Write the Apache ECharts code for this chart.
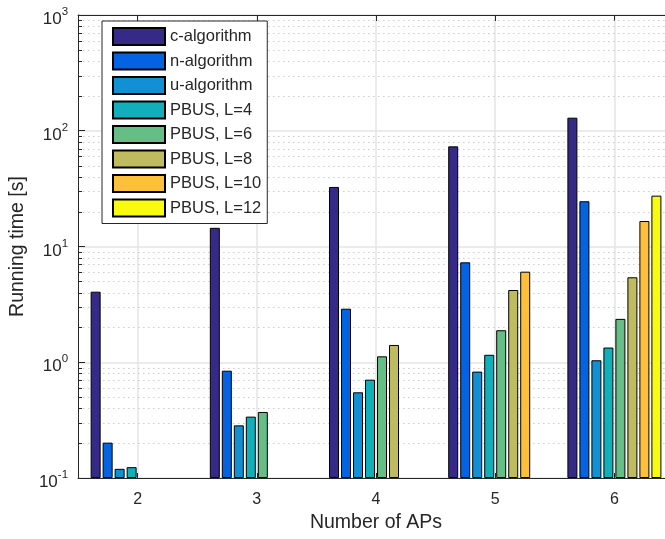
<!DOCTYPE html>
<html>
<head>
<meta charset="utf-8">
<script src="https://cdn.jsdelivr.net/npm/echarts@6/dist/echarts.min.js"></script>
<style>
  html, body { margin: 0; padding: 0; background: #fff; overflow: hidden; }
  #chart { width: 674px; height: 539px; }
</style>
</head>
<body>
<div id="chart"></div>
<script>
// Number of access points on the x axis
const categories = ['2', '3', '4', '5', '6'];

// Running time in seconds per method (null = not run for that size)
const cAlgorithm = [4.07, 14.5, 32.7, 73.3, 129.7];
const nAlgorithm = [0.202, 0.845, 2.90, 7.30, 24.6];
const uAlgorithm = [0.120, 0.285, 0.550, 0.83, 1.04];
const pbusL4 = [0.124, 0.339, 0.707, 1.16, 1.34];
const pbusL6 = [null, 0.372, 1.125, 1.89, 2.37];
const pbusL8 = [null, null, 1.41, 4.21, 5.42];
const pbusL10 = [null, null, null, 6.06, 16.6];
const pbusL12 = [null, null, null, null, 27.5];

const seriesNames = ['c-algorithm', 'n-algorithm', 'u-algorithm', 'PBUS, L=4',
  'PBUS, L=6', 'PBUS, L=8', 'PBUS, L=10', 'PBUS, L=12'];
const seriesValues = [cAlgorithm, nAlgorithm, uAlgorithm, pbusL4,
  pbusL6, pbusL8, pbusL10, pbusL12];
const seriesColors = ['#352a87', '#0363e1', '#1290d4', '#11afb9',
  '#65be86', '#bfbc5f', '#febf3a', '#f9fb0e'];

// Log-axis decades and the minor positions inside each decade
const decades = [0.1, 1, 10, 100];
const minorFactors = [2, 3, 4, 5, 6, 7, 8, 9];
const minorValues = [];
decades.forEach(d => minorFactors.forEach(k => minorValues.push(+(k * d).toPrecision(3))));

const axisColor = '#262626';
const font = 'Liberation Sans, Arial, Helvetica, sans-serif';

const chart = echarts.init(document.getElementById('chart'), null, { renderer: 'canvas' });

const barSeries = seriesNames.map((name, i) => ({
  name: name,
  type: 'bar',
  xAxisIndex: 0,
  yAxisIndex: 0,
  data: seriesValues[i],
  barWidth: 10,
  barGap: '20%',
  z: 3,
  itemStyle: { color: seriesColors[i], borderColor: '#000', borderWidth: 1 }
}));

// Dotted minor grid lines plus the short minor ticks on the left axis
const minorGrid = {
  type: 'custom',
  name: 'minor',
  xAxisIndex: 0,
  yAxisIndex: 0,
  z: 1,
  silent: true,
  data: minorValues.map(v => [0, v]),
  encode: { x: 0, y: 1 },
  renderItem: function (params, api) {
    const cs = params.coordSys;
    const y = Math.round(api.coord([0, api.value(1)])[1]) + 0.5;
    return {
      type: 'group',
      children: [
        { type: 'line', shape: { x1: cs.x, y1: y, x2: cs.x + cs.width, y2: y },
          style: { stroke: '#cdcdcd', lineWidth: 1, lineDash: [1.5, 3.5] } },
        { type: 'line', shape: { x1: cs.x, y1: y, x2: cs.x + 4, y2: y },
          style: { stroke: axisColor, lineWidth: 1 } }
      ]
    };
  }
};

const option = {
  animation: false,
  backgroundColor: '#fff',
  textStyle: { fontFamily: font },
  grid: { left: 78, top: 15, right: 0, bottom: 61, containLabel: false },
  legend: {
    data: seriesNames,
    orient: 'vertical',
    left: 102,
    top: 21,
    padding: [6, 6, 6, 10],
    itemWidth: 52,
    itemHeight: 17,
    itemGap: 5.5,
    backgroundColor: '#fff',
    borderColor: axisColor,
    borderWidth: 1,
    borderRadius: 0,
    textStyle: { fontFamily: font, fontSize: 16.5, color: '#262626', padding: [0, 0, 0, 0] },
    icon: 'rect'
  },
  xAxis: [{
    type: 'category',
    data: categories,
    position: 'bottom',
    name: 'Number of APs',
    nameLocation: 'middle',
    nameGap: 35,
    nameTextStyle: { fontFamily: font, fontSize: 19.5, color: '#262626' },
    axisLine: { show: true, lineStyle: { color: axisColor, width: 1 } },
    axisTick: { show: true, inside: true, alignWithLabel: true, length: 5, lineStyle: { color: axisColor } },
    axisLabel: { fontFamily: font, fontSize: 16, color: '#262626', margin: 14 },
    splitLine: { show: true, alignWithLabel: true, lineStyle: { color: '#e5e5e5', width: 1.5 } }
  }, {
    type: 'category',
    data: categories,
    position: 'top',
    axisLine: { show: true, lineStyle: { color: axisColor, width: 1 } },
    axisTick: { show: true, inside: true, alignWithLabel: true, length: 6, lineStyle: { color: axisColor } },
    axisLabel: { show: false },
    splitLine: { show: false }
  }],
  yAxis: [{
    type: 'log',
    logBase: 10,
    min: 0.1,
    max: 1000,
    startValue: 0.1,
    name: 'Running time [s]',
    nameLocation: 'middle',
    nameRotate: 90,
    nameGap: 48,
    nameTextStyle: { fontFamily: font, fontSize: 19.5, color: '#262626' },
    axisLine: { show: true, lineStyle: { color: axisColor, width: 1 } },
    axisTick: { show: true, inside: true, length: 7, lineStyle: { color: axisColor } },
    axisLabel: {
      margin: 10,
      formatter: function (v) {
        const e = Math.round(Math.log10(v));
        return '{b|10}{s|' + e + '}';
      },
      rich: {
        b: { fontFamily: font, fontSize: 17, color: '#262626', verticalAlign: 'bottom', padding: [0, 0, -4, 0] },
        s: { fontFamily: font, fontSize: 11.5, color: '#262626', verticalAlign: 'top', padding: [0, 0, 6, 0] }
      }
    },
    splitLine: { show: true, lineStyle: { color: '#e5e5e5', width: 1.5 } }
  }],
  series: [minorGrid].concat(barSeries)
};

chart.setOption(option);
</script>
</body>
</html>
